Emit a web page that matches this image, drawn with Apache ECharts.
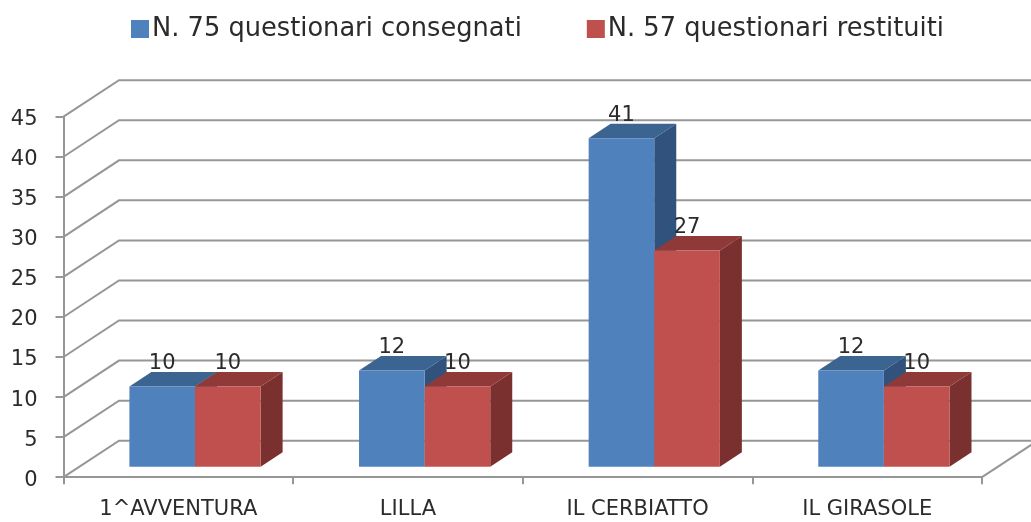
<!DOCTYPE html>
<html><head><meta charset="utf-8">
<style>html,body{margin:0;padding:0;background:#fff}#c{width:1031px;height:522px}</style>
<script src="https://cdn.jsdelivr.net/npm/echarts@6/dist/echarts.min.js"></script>
</head><body><div id="c"></div>
<script>
const categories = ['1^AVVENTURA','LILLA','IL CERBIATTO','IL GIRASOLE'];
const consegnati = [10,12,41,12];
const restituiti = [10,10,27,10];
const yTicks = [0,5,10,15,20,25,30,35,40,45];
const nameA = 'N. 75 questionari consegnati';
const nameB = 'N. 57 questionari restituiti';

const DEPTH = [55.5,-36.5];      // whole floor depth, px
const BAR_OFF = [16.7,-10.5];    // bar front face offset
const BAR_DEPTH = [22,-14.5];    // bar depth
const GRID = '#969696';
const TXT = '#2b2b2b';
const FONT = '"DejaVu Sans"';

function wallItem(params, api){
  const v = api.value(1);
  const band = api.size([1,0])[0];
  const a = api.coord([0,v]), b = api.coord([categories.length-1,v]);
  const x0 = a[0]-band/2, x1 = b[0]+band/2, y = a[1];
  const points = [[x0,y],[x0+DEPTH[0],y+DEPTH[1]],[x1+DEPTH[0],y+DEPTH[1]]];
  const children = [{type:'polyline',shape:{points},style:{stroke:GRID,lineWidth:2,fill:null}}];
  if(v===0) children.push({type:'polyline',shape:{points:[[x1,y],[x1+DEPTH[0],y+DEPTH[1]]]},style:{stroke:GRID,lineWidth:2,fill:null}});
  return {type:'group',children};
}
function barRender(side, front, top, flank){
  return function(params, api){
    const i = api.value(0), v = api.value(1);
    const band = api.size([1,0])[0], w = band/3.5;
    const c = api.coord([i,v]), base = api.coord([i,0]);
    const xL = c[0]+BAR_OFF[0]+(side<0?-w:0), xR = xL+w;
    const yT = c[1]+BAR_OFF[1], yB = base[1]+BAR_OFF[1];
    const dx = BAR_DEPTH[0], dy = BAR_DEPTH[1];
    return {type:'group',children:[
      {type:'polygon',shape:{points:[[xR,yT],[xR+dx,yT+dy],[xR+dx,yB+dy],[xR,yB]]},style:{fill:flank}},
      {type:'polygon',shape:{points:[[xL,yT],[xL+dx,yT+dy],[xR+dx,yT+dy],[xR,yT]]},style:{fill:top}},
      {type:'rect',shape:{x:xL,y:yT,width:w,height:yB-yT},style:{fill:front}},
      {type:'text',z2:50,style:{text:String(v),x:(xL+xR)/2,y:yT+dy-8.5,align:'center',verticalAlign:'middle',
        fill:TXT,font:'21px '+FONT}}
    ]};
  };
}
const chart = echarts.init(document.getElementById('c'),null,{renderer:'canvas'});
chart.setOption({
  animation:false,
  backgroundColor:'#fff',
  legend:{left:126,top:11,itemWidth:18,itemHeight:18,itemGap:65,icon:'rect',data:[nameA,nameB],
    textStyle:{fontFamily:FONT,fontSize:25.7,color:TXT,padding:[0,0,0,-2]},selectedMode:false},
  grid:{left:63.5,right:49,top:116.7,height:360.5,containLabel:false},
  xAxis:{type:'category',data:categories,boundaryGap:true,
    axisLine:{show:true,lineStyle:{color:GRID,width:2}},
    axisTick:{show:true,alignWithLabel:false,length:7,lineStyle:{color:GRID,width:2}},
    axisLabel:{color:TXT,fontFamily:FONT,fontSize:21,margin:22,interval:0},
    splitLine:{show:false}},
  yAxis:{type:'value',min:0,max:45,interval:5,
    axisLine:{show:true,lineStyle:{color:GRID,width:2}},
    axisTick:{show:true,length:8,lineStyle:{color:GRID,width:2}},
    axisLabel:{color:TXT,margin:26,formatter:'{a|{value}}',
      rich:{a:{fontFamily:FONT,fontSize:21,color:TXT,padding:[6,0,0,0]}}},
    splitLine:{show:false}},
  series:[
    {type:'custom',name:'griglia',renderItem:wallItem,silent:true,z:1,data:yTicks.map(v=>[0,v])},
    {type:'custom',name:nameA,z:2,itemStyle:{color:'#4F81BD'},
      renderItem:barRender(-1,'#4F81BD','#3C6491','#31527D'),data:consegnati.map((v,i)=>[i,v])},
    {type:'custom',name:nameB,z:3,itemStyle:{color:'#C0504D'},
      renderItem:barRender(1,'#C0504D','#8F3A38','#7A302E'),data:restituiti.map((v,i)=>[i,v])}
  ]
});
</script></body></html>
